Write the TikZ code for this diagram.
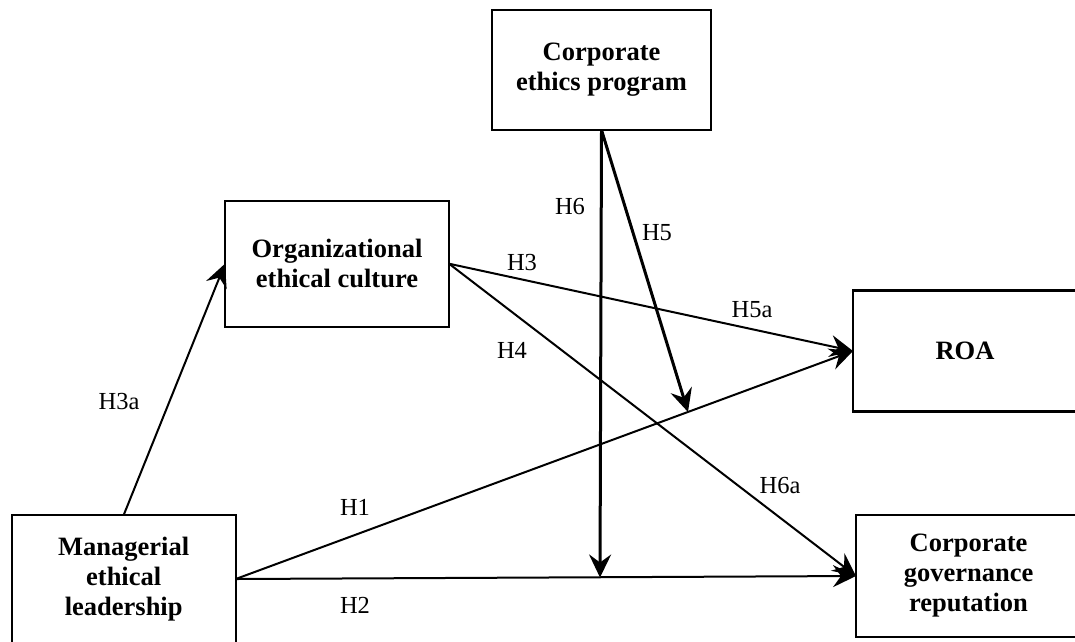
\documentclass[tikz,border=0pt]{standalone}
\usepackage{fontspec}
\setmainfont{Liberation Serif}
\usetikzlibrary{arrows.meta}
\begin{document}
\begin{tikzpicture}[x=1pt,y=-1pt,
  box/.style={draw=black, line width=2.4pt, rectangle, align=center, outer sep=0pt,
    font=\fontsize{26.5}{30}\selectfont\bfseries, inner sep=0pt},
  link/.style={line width=2pt, -{Stealth[length=23pt,width=22pt,inset=8pt]}},
  thick link/.style={link, line width=3pt},
  hlabel/.style={font=\fontsize{24.5}{28}\selectfont, inner sep=0pt}]
\useasboundingbox (0,0) rectangle (1075,641);
\clip (0,0) rectangle (1075,641);
\fill[white] (0,0) rectangle (1075,641);

% constructs
\node[box, minimum width=219pt, minimum height=120pt] (cep) at (601.5,70) {Corporate\\ethics program};
\node[box, minimum width=224pt, minimum height=126pt] (oec) at (337,263.7) {Organizational\\ethical culture};
\node[box, minimum width=224pt, minimum height=121pt] (roa) at (965,351) {ROA};
\node[box, minimum width=224pt, minimum height=128pt] (mel) at (123.7,579) {Managerial\\ethical\\leadership};
\node[box, minimum width=225pt, minimum height=122pt] (cgr) at (968.5,576) {Corporate\\governance\\reputation};

% moderation targets on the direct paths
\coordinate (h6end) at (600,577.5);
\coordinate (h5end) at (688,412);

% paths
\draw[link] (mel.north) -- (oec.west);
\draw[link] (oec.east) -- (roa.west);
\draw[link] (oec.east) -- (cgr.west);
\draw[link] (mel.east) -- (roa.west);
\draw[link] (mel.east) -- (cgr.west);
\draw[thick link] (cep.south) -- (h6end);
\draw[thick link] (cep.south) -- (h5end);

% hypothesis labels
\node[hlabel] (lH3a) at (119,401) {H3a};
\node[hlabel] (lH3) at (522,262) {H3};
\node[hlabel] (lH4) at (512,350) {H4};
\node[hlabel] (lH5a) at (752,310) {H5a};
\node[hlabel] (lH6) at (570,207) {H6};
\node[hlabel] (lH5) at (657,233) {H5};
\node[hlabel] (lH1) at (355,507) {H1};
\node[hlabel] (lH2) at (355,605) {H2};
\node[hlabel] (lH6a) at (780,485) {H6a};
\end{tikzpicture}
\end{document}
